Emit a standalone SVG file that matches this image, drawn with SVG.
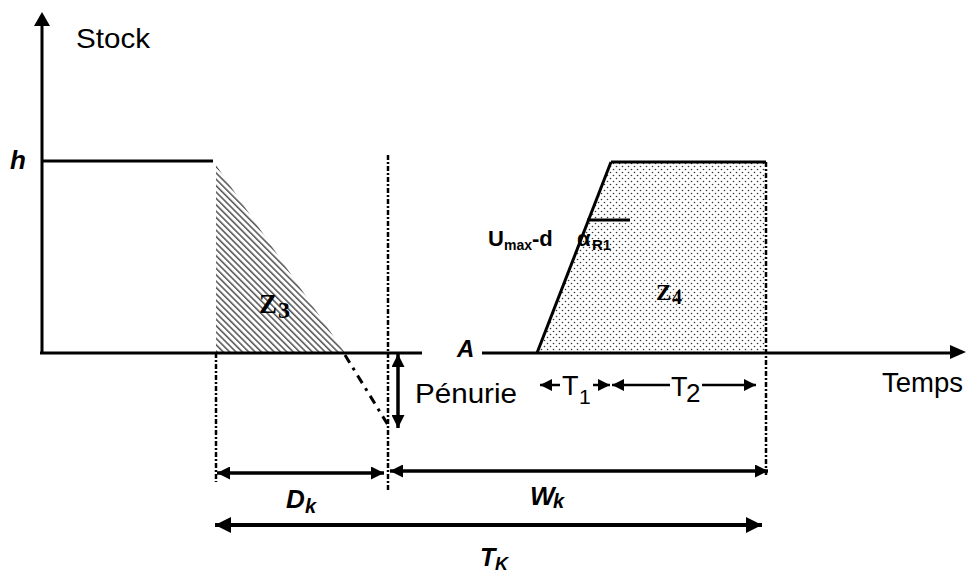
<svg xmlns="http://www.w3.org/2000/svg" width="974" height="573" viewBox="0 0 974 573">
<style>
.ln{stroke:#000;stroke-width:3;fill:none}
.dd{stroke:#000;stroke-width:2.5;fill:none;stroke-dasharray:5,2,2,2}
.ar{stroke:#000;stroke-width:3.5;fill:none;marker-start:url(#ah);marker-end:url(#ah)}
.ar2{stroke:#000;stroke-width:2.5;fill:none}
.t{font-family:"Liberation Sans",Arial,sans-serif;fill:#000}
.bi{font-family:"Liberation Sans",Arial,sans-serif;font-weight:bold;font-style:italic;fill:#000}
.z{font-family:"Liberation Serif","Times New Roman",serif;font-weight:bold;fill:#000}
</style>
<defs>
<marker id="ah" viewBox="0 0 10 10" refX="10" refY="5" markerWidth="14" markerHeight="13" markerUnits="userSpaceOnUse" orient="auto-start-reverse"><path d="M0,0 L10,5 L0,10 z" fill="#000"/></marker>
<marker id="ahb" viewBox="0 0 10 10" refX="10" refY="5" markerWidth="18" markerHeight="16" markerUnits="userSpaceOnUse" orient="auto-start-reverse"><path d="M0,0 L10,5 L0,10 z" fill="#000"/></marker>
<marker id="ahs" viewBox="0 0 10 10" refX="10" refY="5" markerWidth="14" markerHeight="12" markerUnits="userSpaceOnUse" orient="auto"><path d="M0,0 L10,5 L0,10 z" fill="#000"/></marker>
<pattern id="hatch" width="4.5" height="4.5" patternUnits="userSpaceOnUse" patternTransform="rotate(45)"><line x1="0" y1="1" x2="4.5" y2="1" stroke="#222" stroke-width="1.2"/></pattern>
<pattern id="dots" width="6" height="6" patternUnits="userSpaceOnUse"><circle cx="1.5" cy="1.5" r="0.8" fill="#333"/><circle cx="4.5" cy="4.5" r="0.8" fill="#333"/></pattern>
</defs>
<rect width="974" height="573" fill="#fff"/>

<g id="zones">
<polygon id="z3" points="216,165 216,353 345,353" fill="url(#hatch)"/>
<polygon id="z4" points="537,353 611,162 766,162 766,353" fill="url(#dots)"/>
</g>

<g id="axes">
<line class="ln" x1="42" y1="24" x2="42" y2="354"/>
<polygon points="42,12 34,26 50,26" fill="#000"/>
<line class="ln" x1="42" y1="161" x2="213" y2="161"/>
<line class="ln" x1="40" y1="353" x2="422" y2="353"/>
<line class="ln" x1="482" y1="353" x2="952" y2="353"/>
<polygon points="966,352 950,345 950,359" fill="#000"/>
<line class="ln" x1="537" y1="353" x2="611" y2="162"/>
<line class="ln" x1="611" y1="162" x2="766" y2="162"/>
<line class="ln" x1="587" y1="220" x2="630" y2="220" stroke-width="2"/>
<line x1="345" y1="355" x2="388" y2="425" stroke="#000" stroke-width="3" stroke-dasharray="9,6,3,6"/>
</g>

<g id="connectors">
<line class="dd" x1="216" y1="353" x2="216" y2="482"/>
<line class="dd" x1="388" y1="155" x2="388" y2="490"/>
<line class="dd" x1="766" y1="162" x2="766" y2="477"/>
<line class="ar" x1="398" y1="354" x2="398" y2="428"/>
<line class="ar" x1="217" y1="473" x2="384" y2="473"/>
<line class="ar" x1="390" y1="471" x2="768" y2="471"/>
<line x1="215" y1="525" x2="762" y2="525" stroke="#000" stroke-width="4" marker-start="url(#ahb)" marker-end="url(#ahb)"/>
<line class="ar2" x1="560" y1="385" x2="540" y2="385" marker-end="url(#ahs)"/>
<line class="ar2" x1="593" y1="385" x2="610" y2="385" marker-end="url(#ahs)"/>
<line class="ar2" x1="670" y1="385" x2="612" y2="385" marker-end="url(#ahs)"/>
<line class="ar2" x1="702" y1="385" x2="756" y2="385" marker-end="url(#ahs)"/>
</g>

<g id="labels">
<text class="t" x="76" y="48" font-size="28" textLength="74" lengthAdjust="spacingAndGlyphs">Stock</text>
<text class="bi" x="10" y="169" font-size="26">h</text>
<text class="z"><tspan x="259" y="313" font-size="27">Z</tspan><tspan x="278" y="318" font-size="24">3</tspan></text>
<text class="z"><tspan x="656" y="300" font-size="23">Z</tspan><tspan x="672" y="304" font-size="20">4</tspan></text>
<text class="bi" x="457" y="357" font-size="24">A</text>
<text class="t" x="415" y="403" font-size="28" textLength="102" lengthAdjust="spacingAndGlyphs">Pénurie</text>
<text class="t" x="882" y="392" font-size="28" textLength="81" lengthAdjust="spacingAndGlyphs">Temps</text>
<text class="t"><tspan x="562" y="395" font-size="27">T</tspan><tspan x="579" y="404" font-size="21">1</tspan></text>
<text class="t"><tspan x="671" y="396" font-size="27">T</tspan><tspan x="686" y="402" font-size="26">2</tspan></text>
<text class="t" font-weight="bold"><tspan x="488" y="246" font-size="22">U</tspan><tspan x="504" y="250" font-size="14">max</tspan><tspan x="532" y="246" font-size="22">-d</tspan><tspan x="577" y="246" font-size="22">α</tspan><tspan x="592" y="250" font-size="15">R1</tspan></text>
<text class="bi"><tspan x="286" y="508" font-size="26">D</tspan><tspan x="305" y="513" font-size="20">k</tspan></text>
<text class="bi"><tspan x="530" y="505" font-size="26">W</tspan><tspan x="553" y="508" font-size="20">k</tspan></text>
<text class="bi"><tspan x="480" y="566" font-size="25">T</tspan><tspan x="495" y="570" font-size="18">K</tspan></text>
</g>
</svg>
